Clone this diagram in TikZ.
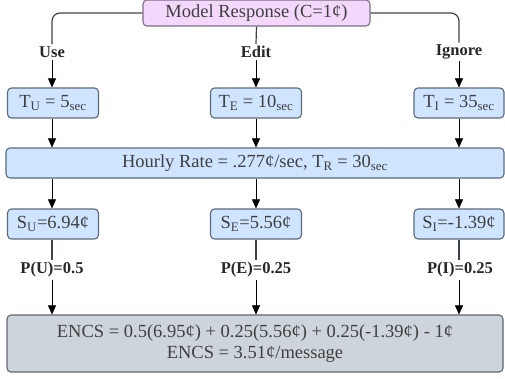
\documentclass[tikz,border=0pt]{standalone}
\usepackage{fontspec}
\setmainfont{Liberation Serif}
\usetikzlibrary{arrows.meta}
\definecolor{purplefill}{HTML}{F3D8FB}
\definecolor{purpleline}{HTML}{7D6E84}
\definecolor{bluefill}{HTML}{CFE4FF}
\definecolor{blueline}{HTML}{5C6B7C}
\definecolor{greyfill}{HTML}{CED4DB}
\definecolor{greyline}{HTML}{5E6670}
\definecolor{wire}{HTML}{3D434E}
\tikzset{block/.style={rectangle, rounded corners=4pt, draw=blueline, fill=bluefill,
line width=1.1pt, inner sep=0pt, minimum height=30pt, minimum width=91pt,
font=\fontsize{18.5}{21}\selectfont, text=black!75},
model/.style={block, draw=purpleline, fill=purplefill, minimum height=26pt, minimum width=227pt},
total/.style={block, draw=greyline, fill=greyfill, minimum height=57pt, minimum width=496pt, align=center},
lbl/.style={rectangle, fill=white, inner sep=2pt, font=\fontsize{16.5}{18}\selectfont\bfseries, text=black!85},
-/.style={color=wire, line width=1.2pt},
>={Triangle[length=9pt, width=8pt]}}

\begin{document}
\begin{tikzpicture}[x=1pt, y=-1pt]
  \useasboundingbox (0,0) rectangle (505,378);

  \node (resp) [model] at (256.5,13) {Model Response (C=1¢)};

  \node (useLbl) [lbl] at (52,52) {Use};
  \node (editLbl) [lbl] at (256,52) {Edit};
  \node (ignLbl) [lbl] at (459,52) {Ignore};

  \node (tu) [block] at (53,103) {T\textsubscript{U} = 5\textsubscript{sec}};
  \node (te) [block] at (256,103) {T\textsubscript{E} = 10\textsubscript{sec}};
  \node (ti) [block, minimum width=90pt] at (459,103) {T\textsubscript{I} = 35\textsubscript{sec}};

  \node (rate) [block, minimum width=498pt] at (255,163)
    {Hourly Rate = .277¢/sec, T\textsubscript{R} = 30\textsubscript{sec}};

  \node (su) [block] at (53,224) {S\textsubscript{U}=6.94¢};
  \node (se) [block] at (256,224) {S\textsubscript{E}=5.56¢};
  \node (si) [block, minimum width=90pt] at (459,224) {S\textsubscript{I}=-1.39¢};

  \node (pu) [lbl] at (52,270) {P(U)=0.5};
  \node (pe) [lbl] at (256,270) {P(E)=0.25};
  \node (pi) [lbl] at (460,270) {P(I)=0.25};

  \node (encs) [total] at (255,343.5)
    {ENCS = 0.5(6.95¢) + 0.25(5.56¢) + 0.25(-1.39¢) - 1¢\\ENCS = 3.51¢/message};

  % choices
  \draw [-, rounded corners=8pt] (resp.west) -| (useLbl.north);
  \draw [-, rounded corners=8pt] (resp.east) -| (ignLbl.north);
  \draw [-] (resp.south) -- (editLbl.north);
  \draw [->] (useLbl.south) -- (useLbl.south |- tu.north);
  \draw [->] (editLbl.south) -- (te.north);
  \draw [->] (ignLbl.south) -- (ignLbl.south |- ti.north);

  % time to rate
  \draw [->] (useLbl.south |- tu.south) -- (useLbl.south |- rate.north);
  \draw [->] (te.south) -- (te.south |- rate.north);
  \draw [->] (ignLbl.south |- ti.south) -- (ignLbl.south |- rate.north);

  % rate to savings
  \draw [->] (useLbl.south |- rate.south) -- (useLbl.south |- su.north);
  \draw [->] (te.south |- rate.south) -- (se.north);
  \draw [->] (ignLbl.south |- rate.south) -- (ignLbl.south |- si.north);

  % savings to total
  \draw [-] (useLbl.south |- su.south) -- (useLbl.south |- pu.north);
  \draw [-] (se.south) -- (pe.north);
  \draw [-] (ignLbl.south |- si.south) -- (ignLbl.south |- pi.north);
  \draw [->] (useLbl.south |- pu.south) -- (useLbl.south |- encs.north);
  \draw [->] (pe.south) -- (pe.south |- encs.north);
  \draw [->] (ignLbl.south |- pi.south) -- (ignLbl.south |- encs.north);
\end{tikzpicture}
\end{document}
